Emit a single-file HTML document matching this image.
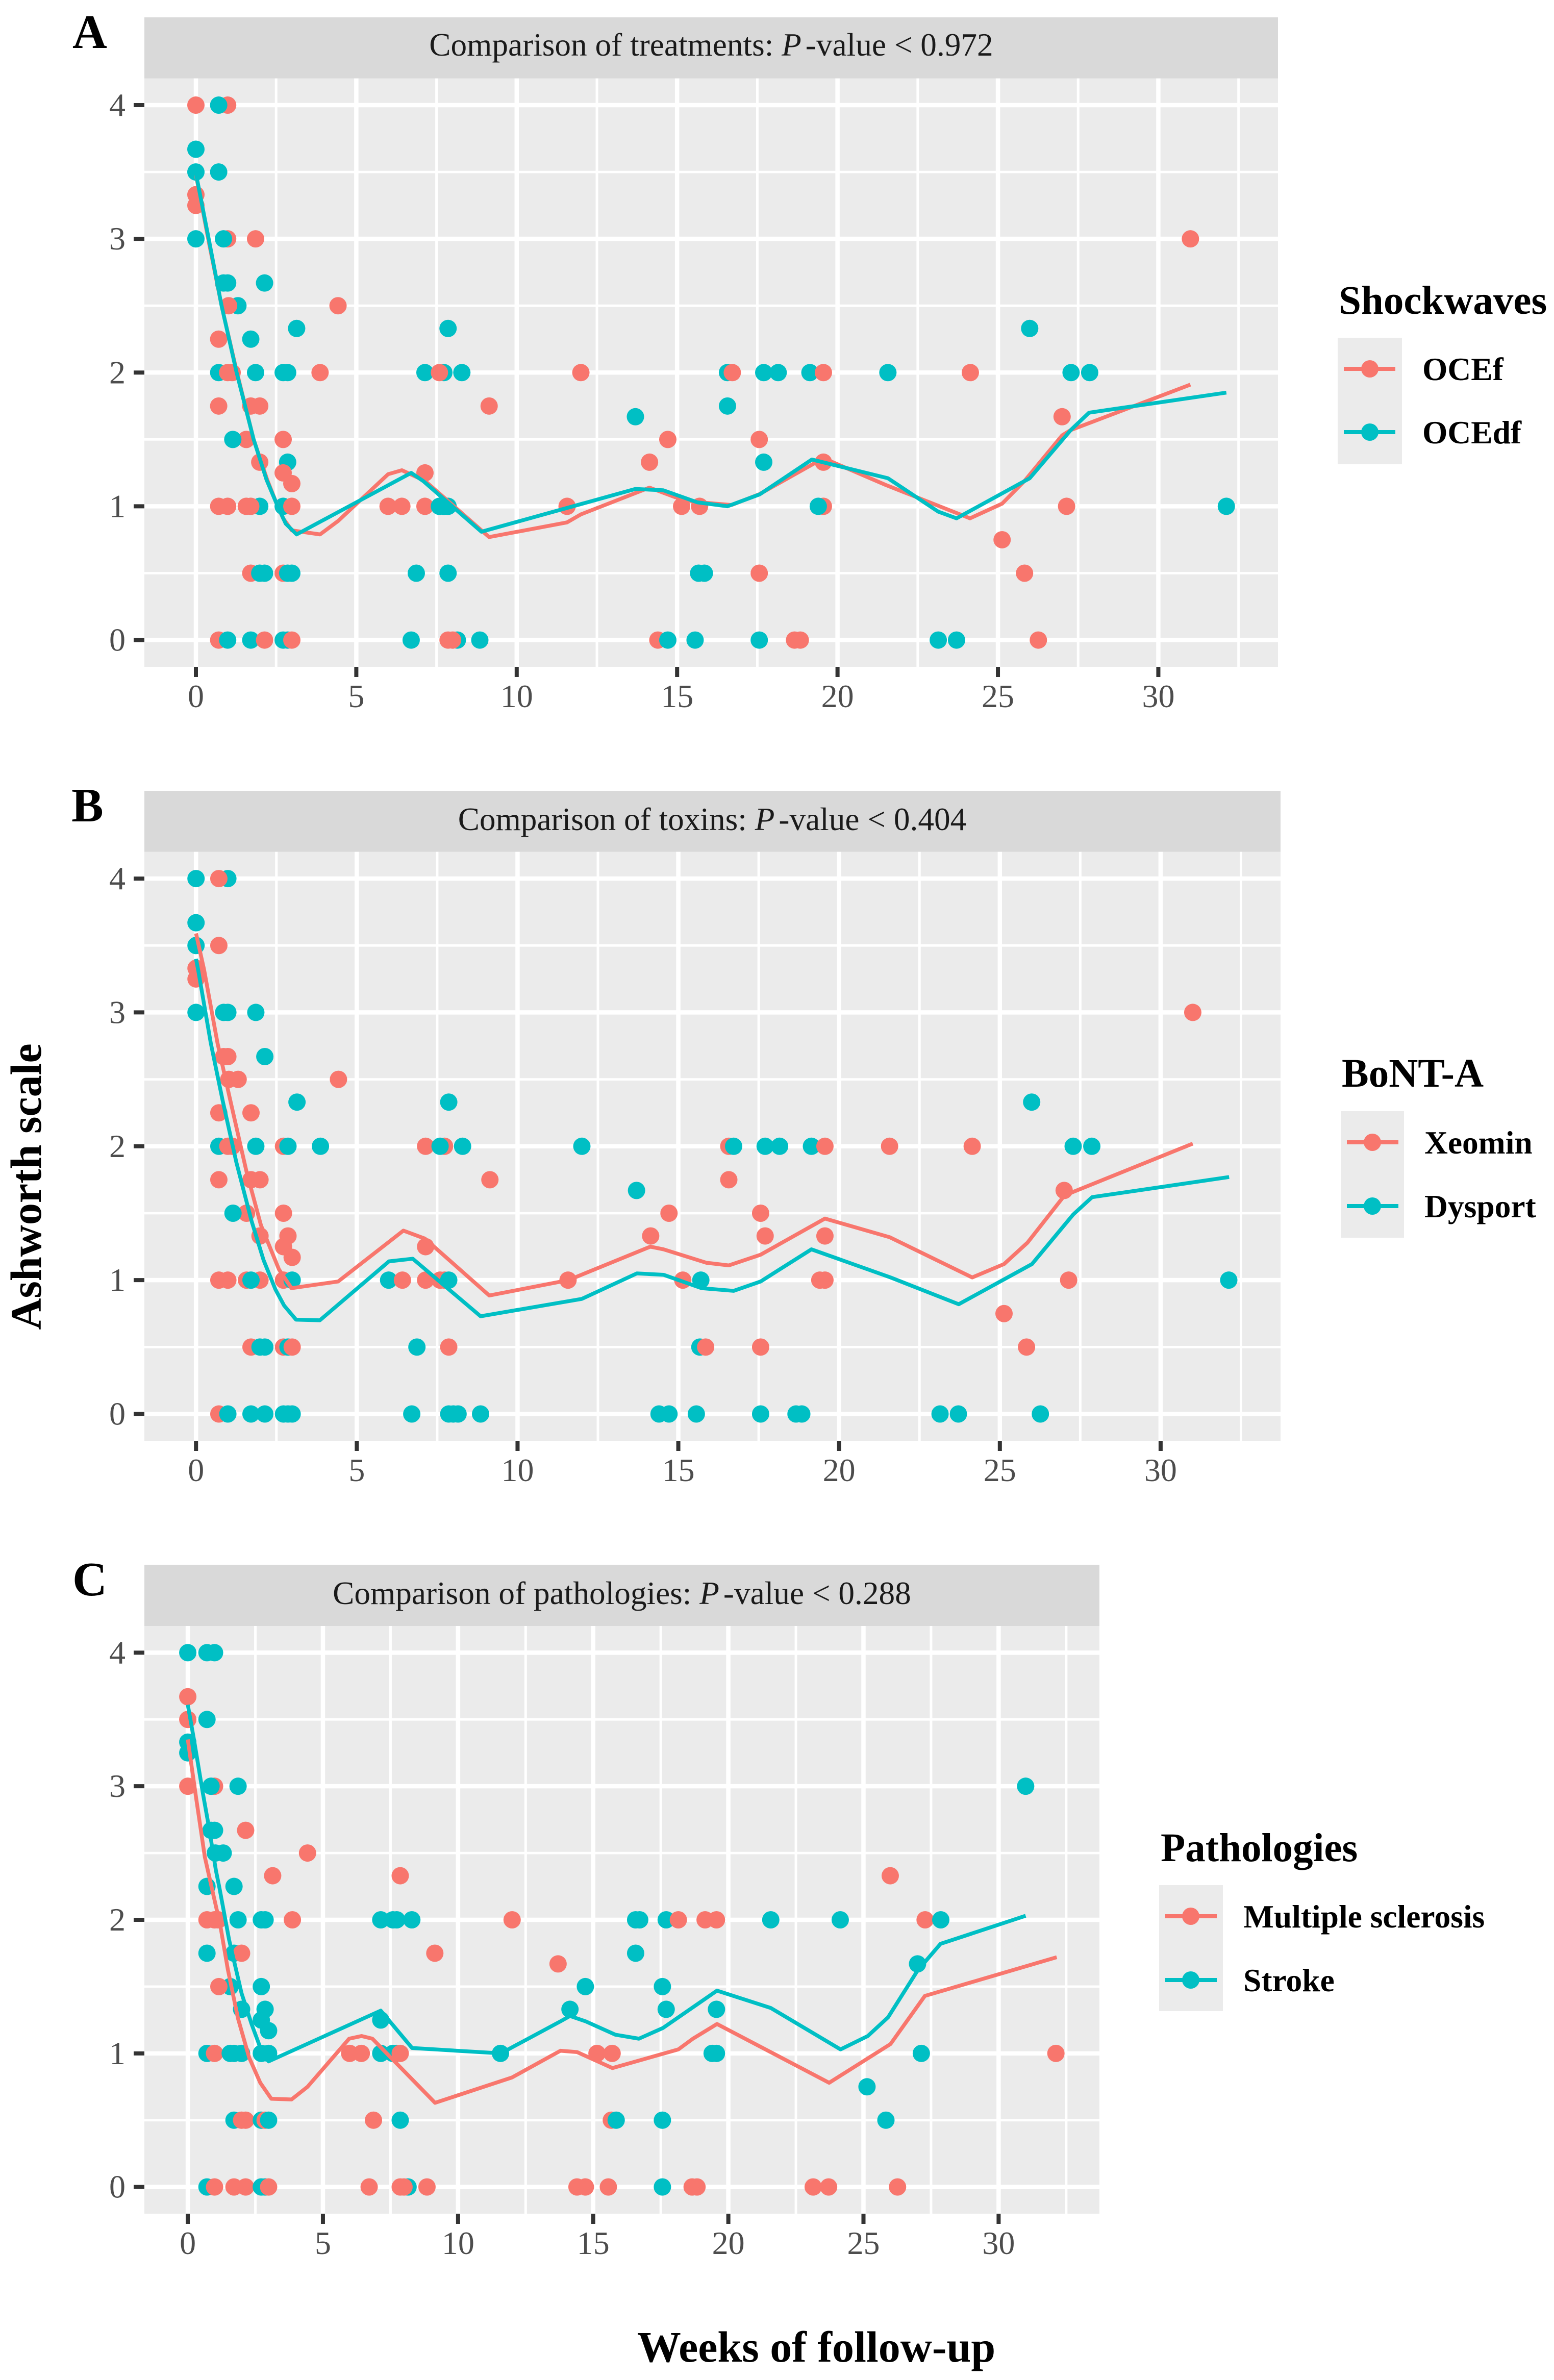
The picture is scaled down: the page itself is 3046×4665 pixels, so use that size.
<!DOCTYPE html>
<html lang="en">
<head>
<meta charset="utf-8">
<title>Ashworth scale over weeks of follow-up</title>
<style>
  html, body { margin: 0; padding: 0; background: #fff; }
  svg { display: block; }
  text { font-family: "Liberation Serif", serif; }
  .strip-text { font-size: 63.3px; fill: #1a1a1a; text-anchor: middle; }
  .legend-title { font-size: 79px; font-weight: bold; fill: #000; }
  .legend-label { font-size: 63.5px; font-weight: bold; fill: #000; }
  .panel-letter { font-size: 94px; font-weight: bold; fill: #000; }
  .axis-title { font-size: 86px; font-weight: bold; fill: #000; text-anchor: middle; }
  .tick-text { font-size: 64px; fill: #4d4d4d; }
</style>
</head>
<body>
<svg id="figure" xmlns="http://www.w3.org/2000/svg" width="3046" height="4665" viewBox="0 0 3046 4665">
  <rect x="0" y="0" width="3046" height="4665" fill="#fff"/>

  <text class="panel-letter" x="142" y="94">A</text>
  <text class="panel-letter" x="140" y="1610">B</text>
  <text class="panel-letter" x="142" y="3127">C</text>

  <g id="panel-a">
    <rect x="283" y="34" width="2222" height="120" fill="#d9d9d9"/>
    <text class="strip-text" x="1394" y="109">Comparison of treatments: <tspan font-style="italic">P</tspan><tspan dx="8">-value &lt; 0.972</tspan></text>
  </g>
  <g id="panel-b">
    <rect x="283" y="1550" width="2227" height="120" fill="#d9d9d9"/>
    <text class="strip-text" x="1396" y="1627">Comparison of toxins: <tspan font-style="italic">P</tspan><tspan dx="8">-value &lt; 0.404</tspan></text>
  </g>
  <g id="panel-c">
    <rect x="283" y="3067" width="1872" height="120" fill="#d9d9d9"/>
    <text class="strip-text" x="1219" y="3144">Comparison of pathologies: <tspan font-style="italic">P</tspan><tspan dx="8">-value &lt; 0.288</tspan></text>
  </g>

  <g>
    <text class="legend-title" x="2624" y="615">Shockwaves</text>
    <rect x="2622" y="662" width="126" height="248" fill="#ebebeb"/>
    <g>
      <line x1="2634" x2="2735" y1="723" y2="723" stroke="#F8766D" stroke-width="8"/>
      <circle cx="2685" cy="723" r="17" fill="#F8766D"/>
      <text class="legend-label" x="2788" y="745">OCEf</text>
    </g>
    <g>
      <line x1="2634" x2="2735" y1="847" y2="847" stroke="#00BFC4" stroke-width="8"/>
      <circle cx="2685" cy="847" r="17" fill="#00BFC4"/>
      <text class="legend-label" x="2788" y="869">OCEdf</text>
    </g>
  </g>

  <g>
    <text class="legend-title" x="2630" y="2130">BoNT-A</text>
    <rect x="2628" y="2178" width="124" height="248" fill="#ebebeb"/>
    <g>
      <line x1="2640" x2="2741" y1="2239" y2="2239" stroke="#F8766D" stroke-width="8"/>
      <circle cx="2690" cy="2239" r="17" fill="#F8766D"/>
      <text class="legend-label" x="2792" y="2261">Xeomin</text>
    </g>
    <g>
      <line x1="2640" x2="2741" y1="2364" y2="2364" stroke="#00BFC4" stroke-width="8"/>
      <circle cx="2690" cy="2364" r="17" fill="#00BFC4"/>
      <text class="legend-label" x="2792" y="2386">Dysport</text>
    </g>
  </g>

  <g>
    <text class="legend-title" x="2275" y="3648">Pathologies</text>
    <rect x="2272" y="3695" width="125" height="247" fill="#ebebeb"/>
    <g>
      <line x1="2284" x2="2385" y1="3756" y2="3756" stroke="#F8766D" stroke-width="8"/>
      <circle cx="2334" cy="3756" r="17" fill="#F8766D"/>
      <text class="legend-label" x="2437" y="3778">Multiple sclerosis</text>
    </g>
    <g>
      <line x1="2284" x2="2385" y1="3881" y2="3881" stroke="#00BFC4" stroke-width="8"/>
      <circle cx="2334" cy="3881" r="17" fill="#00BFC4"/>
      <text class="legend-label" x="2437" y="3903">Stroke</text>
    </g>
  </g>

  <text class="axis-title" transform="translate(80 2326) rotate(-90)" x="0" y="0">Ashworth scale</text>
  <text class="axis-title" x="1600" y="4629">Weeks of follow-up</text>
</svg>

<script>
// ---- Axis ticks ----
const xTickLabels = [0, 5, 10, 15, 20, 25, 30];
const yTickLabels = [0, 1, 2, 3, 4];
const xMinorTicks = [2.5, 7.5, 12.5, 17.5, 22.5, 27.5, 32.5];
const yMinorTicks = [0.5, 1.5, 2.5, 3.5];
const xDomain = [-1.606, 33.73];
const yDomain = [-0.2, 4.2];

// ---- Observations: weeks and Ashworth score; group arrays: 0 = first legend entry, 1 = second ----
const weeks = [
  0, 0.99, 0.71,
  0,
  0, 0.71,
  0,
  0,
  0, 0.99, 0.86, 1.86, 31,
  0.99, 0.86, 2.14,
  1.31, 1.02, 4.43,
  3.14, 7.86, 25.99,
  0.71, 1.71,
  0.71, 0.99, 1.13, 1.86, 2.72, 2.86, 3.87, 7.14, 7.73, 7.59, 8.29, 12, 16.57, 16.72, 17.7, 18.15, 19.14, 19.56, 21.57, 24.14, 27.28, 27.86,
  0.71, 1.71, 1.99, 9.14, 16.57,
  13.7, 27,
  1.57, 1.15, 2.72, 14.71, 17.56,
  1.99, 2.86, 14.14, 17.7, 19.56,
  2.72, 7.14,
  2.99,
  0.71, 0.99, 1.57, 1.99, 1.71, 2.72, 2.99, 5.99, 6.42, 7.14, 7.73, 7.59, 7.86, 11.57, 15.14, 15.7, 19.56, 19.4, 27.14, 32.12,
  25.13,
  1.71, 1.99, 2.14, 2.72, 2.86, 2.99, 6.87, 7.86, 15.67, 15.85, 17.56, 25.83,
  0.71, 0.99, 1.71, 2.14, 2.72, 2.86, 2.99, 6.71, 8.15, 8, 7.86, 8.85, 14.4, 14.71, 15.56, 17.56, 18.66, 18.84, 23.14, 23.71, 26.26
];
const scores = [
  4, 4, 4,
  3.67,
  3.5, 3.5,
  3.33,
  3.25,
  3, 3, 3, 3, 3,
  2.67, 2.67, 2.67,
  2.5, 2.5, 2.5,
  2.33, 2.33, 2.33,
  2.25, 2.25,
  2, 2, 2, 2, 2, 2, 2, 2, 2, 2, 2, 2, 2, 2, 2, 2, 2, 2, 2, 2, 2, 2,
  1.75, 1.75, 1.75, 1.75, 1.75,
  1.67, 1.67,
  1.5, 1.5, 1.5, 1.5, 1.5,
  1.33, 1.33, 1.33, 1.33, 1.33,
  1.25, 1.25,
  1.17,
  1, 1, 1, 1, 1, 1, 1, 1, 1, 1, 1, 1, 1, 1, 1, 1, 1, 1, 1, 1,
  0.75,
  0.5, 0.5, 0.5, 0.5, 0.5, 0.5, 0.5, 0.5, 0.5, 0.5, 0.5, 0.5,
  0, 0, 0, 0, 0, 0, 0, 0, 0, 0, 0, 0, 0, 0, 0, 0, 0, 0, 0, 0, 0
];
const groupTreatment = [
  0, 0, 1,
  1,
  1, 1,
  0,
  0,
  1, 0, 1, 0, 0,
  1, 1, 1,
  1, 0, 0,
  1, 1, 1,
  0, 1,
  1, 0, 0, 1, 1, 1, 0, 1, 1, 0, 1, 0, 1, 0, 1, 1, 1, 0, 1, 0, 1, 1,
  0, 0, 0, 0, 1,
  1, 0,
  0, 1, 0, 0, 0,
  0, 1, 0, 1, 0,
  0, 0,
  0,
  0, 0, 0, 1, 0, 1, 0, 0, 0, 0, 1, 1, 1, 0, 0, 0, 0, 1, 0, 1,
  0,
  0, 1, 1, 0, 1, 1, 1, 1, 1, 1, 0, 0,
  0, 1, 1, 0, 1, 1, 0, 1, 1, 0, 0, 1, 0, 1, 1, 1, 0, 0, 1, 1, 0
];
const groupToxin = [
  1, 1, 0,
  1,
  1, 0,
  0,
  0,
  1, 1, 1, 1, 0,
  0, 0, 1,
  0, 0, 0,
  1, 1, 1,
  0, 0,
  1, 0, 0, 1, 0, 1, 1, 0, 0, 1, 1, 1, 0, 1, 1, 1, 1, 0, 0, 0, 1, 1,
  0, 0, 0, 0, 0,
  1, 0,
  0, 1, 0, 0, 0,
  0, 0, 0, 0, 0,
  0, 0,
  0,
  0, 0, 0, 0, 1, 0, 1, 1, 0, 0, 0, 0, 1, 0, 0, 1, 0, 0, 0, 1,
  0,
  0, 1, 1, 0, 1, 0, 1, 0, 1, 0, 0, 0,
  0, 1, 1, 1, 1, 1, 1, 1, 1, 1, 1, 1, 1, 1, 1, 1, 1, 1, 1, 1, 1
];
const groupPathology = [
  1, 1, 1,
  0,
  0, 1,
  1,
  1,
  0, 0, 1, 1, 1,
  1, 1, 0,
  1, 1, 0,
  0, 0, 0,
  1, 1,
  0, 0, 0, 1, 1, 1, 0, 1, 1, 1, 1, 0, 1, 1, 1, 0, 0, 0, 1, 1, 0, 1,
  1, 1, 0, 0, 1,
  0, 1,
  1, 0, 1, 1, 1,
  1, 1, 1, 1, 1,
  1, 1,
  1,
  1, 0, 1, 1, 1, 1, 1, 0, 0, 1, 1, 1, 0, 1, 0, 0, 1, 1, 1, 0,
  1,
  1, 0, 0, 1, 0, 1, 0, 1, 0, 1, 1, 1,
  1, 0, 0, 0, 1, 1, 0, 0, 1, 0, 0, 0, 0, 0, 0, 1, 0, 0, 0, 0, 0
];

// ---- Smoothed trend lines ----
const ocefWeeks = [0, 0.4, 0.8, 1.28, 1.8, 2.22, 2.55, 2.72, 2.99, 3.87, 4.43, 5.99, 6.42, 7.14, 9.14, 11.57, 12, 14.14, 15.14, 15.7, 16.7, 17.56, 19.56, 21.5, 24.13, 25.13, 25.83, 27, 27.27, 31];
const ocefValues = [3.48, 2.98, 2.5, 2.0, 1.5, 1.2, 1.0, 0.91, 0.82, 0.79, 0.89, 1.24, 1.27, 1.19, 0.77, 0.88, 0.94, 1.14, 1.05, 1.03, 1.01, 1.09, 1.36, 1.16, 0.91, 1.02, 1.19, 1.53, 1.57, 1.91];
const ocedfWeeks = [0, 0.4, 0.8, 1.27, 1.8, 2.2, 2.55, 2.8, 3.14, 6.71, 7.08, 8.9, 13.7, 14.57, 15.63, 16.57, 17.58, 19.2, 21.57, 23.14, 23.71, 25.99, 27.27, 27.84, 32.12];
const ocedfValues = [3.49, 3.0, 2.5, 2.0, 1.5, 1.2, 1.0, 0.87, 0.79, 1.25, 1.19, 0.81, 1.13, 1.12, 1.03, 1.0, 1.09, 1.35, 1.21, 0.96, 0.91, 1.21, 1.57, 1.7, 1.85];
const xeominWeeks = [0, 0.25, 0.67, 1.04, 1.57, 2.02, 2.58, 2.97, 4.42, 6.45, 7.12, 9.12, 11.58, 14.13, 14.54, 15.87, 16.57, 17.56, 19.56, 21.58, 24.14, 25.13, 25.86, 27, 27.29, 31];
const xeominValues = [3.59, 3.32, 2.77, 2.37, 1.81, 1.41, 1.08, 0.94, 0.99, 1.37, 1.31, 0.885, 1.0, 1.25, 1.23, 1.13, 1.11, 1.19, 1.46, 1.32, 1.02, 1.12, 1.28, 1.63, 1.66, 2.02];
const dysportWeeks = [0, 0.065, 0.46, 0.83, 1.255, 1.73, 2.1, 2.47, 2.74, 3.11, 3.85, 6, 6.74, 8.85, 12, 13.71, 14.54, 15.72, 16.72, 17.56, 19.14, 21.6, 23.72, 26, 27.28, 27.87, 32.13];
const dysportValues = [3.4, 3.32, 2.77, 2.34, 1.88, 1.44, 1.15, 0.93, 0.81, 0.705, 0.7, 1.14, 1.16, 0.73, 0.86, 1.05, 1.04, 0.94, 0.92, 0.99, 1.23, 1.02, 0.82, 1.12, 1.49, 1.62, 1.77];
const sclerosisWeeks = [0, 0.31, 0.63, 0.93, 1.2, 1.48, 1.86, 2.27, 2.68, 3.09, 3.84, 4.43, 5.97, 6.43, 6.83, 9.15, 12, 13.79, 14.4, 15.71, 18.15, 18.69, 19.58, 23.73, 26, 27.27, 32.15];
const sclerosisValues = [3.35, 2.91, 2.47, 2.2, 1.96, 1.63, 1.26, 0.97, 0.78, 0.66, 0.655, 0.75, 1.11, 1.13, 1.11, 0.63, 0.82, 1.02, 1.01, 0.89, 1.03, 1.11, 1.22, 0.78, 1.07, 1.43, 1.72];
const strokeWeeks = [0, 0.22, 0.565, 0.785, 1.04, 1.17, 1.53, 1.99, 2.36, 2.65, 2.99, 7.14, 8.3, 11.58, 13.79, 14.14, 14.72, 15.82, 16.69, 17.58, 19.58, 21.57, 24.15, 25.16, 25.91, 27, 27.85, 31];
const strokeValues = [3.61, 3.36, 2.94, 2.69, 2.37, 2.24, 1.85, 1.45, 1.22, 1.06, 0.94, 1.32, 1.04, 1.0, 1.24, 1.28, 1.24, 1.14, 1.11, 1.19, 1.47, 1.34, 1.03, 1.13, 1.27, 1.62, 1.82, 2.03];

const seriesColors = ['#F8766D', '#00BFC4'];

const SVG_NS = 'http://www.w3.org/2000/svg';
function make(tag, attrs, parent) {
  const el = document.createElementNS(SVG_NS, tag);
  for (const key in attrs) el.setAttribute(key, attrs[key]);
  parent.appendChild(el);
  return el;
}

function drawPanel(cfg) {
  const host = document.getElementById(cfg.id);
  const plotW = cfg.right - cfg.left;
  const plotH = cfg.bottom - cfg.top;
  const xPos = function (v) { return cfg.left + (v - xDomain[0]) / (xDomain[1] - xDomain[0]) * plotW; };
  const yPos = function (v) { return cfg.bottom - (v - yDomain[0]) / (yDomain[1] - yDomain[0]) * plotH; };

  const bg = make('rect', { x: cfg.left, y: cfg.top, width: plotW, height: plotH, fill: '#ebebeb' }, host);
  
  

  const grid = make('g', { stroke: '#ffffff' }, host);
  
  

  yMinorTicks.forEach(function (v) {
    const el = make('line', { x1: cfg.left, x2: cfg.right, y1: yPos(v), y2: yPos(v), 'stroke-width': 4.7 }, grid);
    
    
  });
  xMinorTicks.forEach(function (v) {
    const el = make('line', { x1: xPos(v), x2: xPos(v), y1: cfg.top, y2: cfg.bottom, 'stroke-width': 5 }, grid);
    
    
  });
  yTickLabels.forEach(function (v) {
    const el = make('line', { x1: cfg.left, x2: cfg.right, y1: yPos(v), y2: yPos(v), 'stroke-width': 8.5 }, grid);
    
    
  });
  xTickLabels.forEach(function (v) {
    const el = make('line', { x1: xPos(v), x2: xPos(v), y1: cfg.top, y2: cfg.bottom, 'stroke-width': 8.5 }, grid);
    
    
  });

  yTickLabels.forEach(function (v) {
    const mark = make('line', { x1: cfg.left - 21, x2: cfg.left, y1: yPos(v), y2: yPos(v), stroke: '#333333', 'stroke-width': 8 }, host);
    
    
    const label = make('text', { x: cfg.left - 37, y: yPos(v) + 21, 'text-anchor': 'end', class: 'tick-text' }, host);
    label.textContent = String(v);
    
    
  });
  xTickLabels.forEach(function (v) {
    const mark = make('line', { x1: xPos(v), x2: xPos(v), y1: cfg.bottom, y2: cfg.bottom + 20, stroke: '#333333', 'stroke-width': 8 }, host);
    
    
    const label = make('text', { x: xPos(v), y: cfg.bottom + 79, 'text-anchor': 'middle', class: 'tick-text' }, host);
    label.textContent = String(v);
    
    
  });

  const dots = make('g', {}, host);
  
  
  weeks.forEach(function (w, i) {
    const el = make('circle', { cx: xPos(w), cy: yPos(scores[i]), r: 17, fill: seriesColors[cfg.groups[i]] }, dots);
    
    
  });

  cfg.lines.forEach(function (s) {
    const pts = s.weeks.map(function (w, i) { return xPos(w).toFixed(1) + ',' + yPos(s.values[i]).toFixed(1); }).join(' ');
    const el = make('polyline', { points: pts, fill: 'none', stroke: seriesColors[s.color], 'stroke-width': 7.5, 'stroke-linejoin': 'round' }, host);
    
    
  });
}

drawPanel({
  id: 'panel-a', left: 283, right: 2505, top: 153.6, bottom: 1307, groups: groupTreatment,
  lines: [
    { name: 'trend-line-ocef', color: 0, weeks: ocefWeeks, values: ocefValues },
    { name: 'trend-line-ocedf', color: 1, weeks: ocedfWeeks, values: ocedfValues }
  ]
});
drawPanel({
  id: 'panel-b', left: 283, right: 2510, top: 1669.6, bottom: 2824, groups: groupToxin,
  lines: [
    { name: 'trend-line-xeomin', color: 0, weeks: xeominWeeks, values: xeominValues },
    { name: 'trend-line-dysport', color: 1, weeks: dysportWeeks, values: dysportValues }
  ]
});
drawPanel({
  id: 'panel-c', left: 283, right: 2155, top: 3187, bottom: 4339, groups: groupPathology,
  lines: [
    { name: 'trend-line-multiple-sclerosis', color: 0, weeks: sclerosisWeeks, values: sclerosisValues },
    { name: 'trend-line-stroke', color: 1, weeks: strokeWeeks, values: strokeValues }
  ]
});
</script>
</body>
</html>
